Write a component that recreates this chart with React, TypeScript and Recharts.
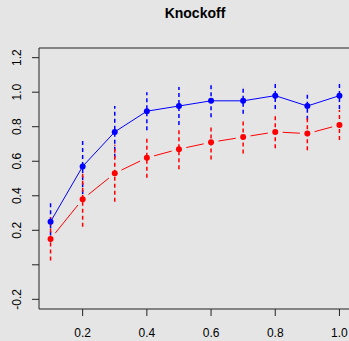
import React from "react";
import {
	LineChart,
	Line,
	XAxis,
	YAxis,
	ErrorBar,
	ReferenceLine,
} from "recharts";

const xs = [0.1, 0.2, 0.3, 0.4, 0.5, 0.6, 0.7, 0.8, 0.9, 1.0];
const blueMean = [0.25, 0.57, 0.77, 0.89, 0.92, 0.95, 0.95, 0.98, 0.92, 0.98];
const blueErr = [0.12, 0.16, 0.15, 0.11, 0.11, 0.095, 0.075, 0.077, 0.08, 0.077];
const redMean = [0.15, 0.38, 0.53, 0.62, 0.67, 0.71, 0.74, 0.77, 0.76, 0.81];
const redErr = [0.125, 0.16, 0.165, 0.115, 0.116, 0.1, 0.095, 0.095, 0.097, 0.087];

const xTicks = [0.2, 0.4, 0.6, 0.8, 1.0];
const yTicks = [-0.2, 0, 0.2, 0.4, 0.6, 0.8, 1.0, 1.2];

const data = xs.map((x, i) => ({
	x,
	blue: blueMean[i],
	blueErr: blueErr[i],
	red: redMean[i],
	redErr: redErr[i],
}));

const BG = "#e5e5e5";
const FONT = "'Liberation Sans', Arial, sans-serif";
const GAP = 7.5;

// R leaves the 0.0 label out, only the tick is drawn
function YTick(props: any) {
	const { x, y, payload } = props;
	const v = payload.value;
	if (Math.abs(v) < 1e-9) return null;
	const tx = x - 9;
	return (
		<text
			x={tx}
			y={y}
			transform={`rotate(-90, ${tx}, ${y})`}
			textAnchor="middle"
			fontSize={12}
			fill="#000"
			fontFamily={FONT}
		>
			{v.toFixed(1)}
		</text>
	);
}

// R's type="b": segments stop short of each point
function RedDot(props: any) {
	const { cx, cy, index, points } = props;
	if (cx == null || cy == null) return <g />;
	const next = points && points[index + 1];
	let seg = null;
	if (next && next.x != null && next.y != null) {
		const dx = next.x - cx;
		const dy = next.y - cy;
		const len = Math.hypot(dx, dy);
		if (len > 2 * GAP) {
			const ux = dx / len;
			const uy = dy / len;
			seg = (
				<line
					x1={cx + ux * GAP}
					y1={cy + uy * GAP}
					x2={next.x - ux * GAP}
					y2={next.y - uy * GAP}
					stroke="#ff0000"
					strokeWidth={1}
				/>
			);
		}
	}
	return (
		<g>
			{seg}
			<circle cx={cx} cy={cy} r={3} fill="#ff0000" stroke="none" />
		</g>
	);
}

export default function App() {
	return (
		<div style={{ width: 349, height: 341, overflow: "hidden", position: "relative", background: BG }}>
			<style>{`body{margin:0;background:${BG};}`}</style>
			<div
				style={{
					position: "absolute",
					top: 5,
					left: 0,
					width: 390,
					textAlign: "center",
					fontFamily: FONT,
					fontWeight: "bold",
					fontSize: 14,
				}}
			>
				Knockoff
			</div>
			<LineChart
				width={351}
				height={341}
				data={data}
				margin={{ top: 48, right: 0, bottom: 0, left: 0 }}
			>
				<XAxis
					dataKey="x"
					type="number"
					domain={[0.064, 1.036]}
					ticks={xTicks}
					allowDataOverflow
					height={32}
					tickSize={7}
					tickMargin={12}
					stroke="#222"
					tick={{ fill: "#000", fontSize: 12, fontFamily: FONT }}
					tickFormatter={(v: number) => v.toFixed(1)}
				/>
				<YAxis
					type="number"
					domain={[-0.256, 1.256]}
					ticks={yTicks}
					allowDataOverflow
					width={39}
					tickSize={7}
					stroke="#222"
					tick={<YTick />}
				/>
				<ReferenceLine y={1.256} stroke="#222" />
				<Line
					dataKey="blue"
					stroke="#0000ff"
					strokeWidth={1}
					dot={{ r: 3, fill: "#0000ff", stroke: "none" }}
					activeDot={false}
					isAnimationActive={false}
				>
					<ErrorBar dataKey="blueErr" width={0} stroke="#0000ff" strokeWidth={1.5} strokeDasharray="4 3" />
				</Line>
				<Line
					dataKey="red"
					stroke="transparent"
					strokeWidth={0}
					strokeOpacity={0}
					dot={<RedDot />}
					activeDot={false}
					isAnimationActive={false}
				>
					<ErrorBar dataKey="redErr" width={0} stroke="#ff0000" strokeWidth={1.5} strokeDasharray="4 3" />
				</Line>
			</LineChart>
		</div>
	);
}
